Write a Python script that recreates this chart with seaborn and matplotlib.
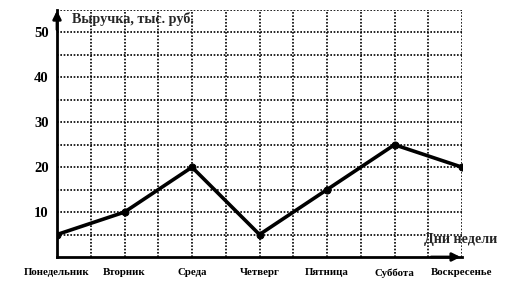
import matplotlib
matplotlib.use("Agg")
import matplotlib.pyplot as plt
import seaborn as sns
import numpy as np

# --- Datos ---
days = ["Понедельник", "Вторник", "Среда", "Четверг", "Пятница", "Суббота", "Воскресенье"]
revenue = [5, 10, 20, 5, 15, 25, 20]
y_ticks = [10, 20, 30, 40, 50]

sns.set_style("white")
plt.rcParams["font.family"] = ["Liberation Serif", "DejaVu Serif"]
plt.rcParams["font.weight"] = "bold"

fig = plt.figure(figsize=(5.08, 2.81), dpi=100)
ax = fig.add_axes([57 / 508, 1 - 257 / 281, (462 - 57) / 508, (257 - 10) / 281])

# grid punteado
for gx in np.arange(0, 6.01, 0.5):
    ax.axvline(gx, color="black", linestyle=(0, (1, 1)), linewidth=1.2, zorder=1)
for gy in np.arange(5, 55.1, 5):
    ax.axhline(gy, color="black", linestyle=(0, (1, 1)), linewidth=1.2, zorder=1)

sns.lineplot(x=days, y=revenue, ax=ax, color="black", linewidth=2.6,
             marker="o", markersize=5, markeredgecolor="black", zorder=3,
             sort=False)

ax.set_xlim(0, 6)
ax.set_ylim(0, 55)
ax.set_yticks(y_ticks)
ax.set_yticklabels([str(v) for v in y_ticks], fontsize=10.5, fontweight="bold")
ax.set_xticks(range(len(days)))
ax.set_xticklabels(days, fontsize=7.8, fontweight="bold")
ax.tick_params(axis="y", direction="out", length=3, width=1.2, pad=3, colors="black")
ax.tick_params(axis="x", direction="out", length=3, width=1.2, pad=5, colors="black")
ax.set_xlabel("")
ax.set_ylabel("")

for s in ["top", "right"]:
    ax.spines[s].set_visible(False)
for s in ["left", "bottom"]:
    ax.spines[s].set_linewidth(2)
    ax.spines[s].set_color("black")

# flechas de los ejes
ax.annotate("", xy=(0, 55.5), xytext=(0, 50), xycoords="data",
            arrowprops=dict(arrowstyle="-|>", color="black", lw=2, mutation_scale=12),
            annotation_clip=False)
ax.annotate("", xy=(6.02, 0), xytext=(5.5, 0), xycoords="data",
            arrowprops=dict(arrowstyle="-|>", color="black", lw=2, mutation_scale=12),
            annotation_clip=False)

ax.text(0.22, 53.1, "Выручка, тыс. руб.", fontsize=10.2, fontweight="bold",
        ha="left", va="center", zorder=4)
ax.text(5.44, 3.8, "Дни недели", fontsize=10.2, fontweight="bold",
        ha="left", va="center", zorder=4, clip_on=False)

plt.savefig("out.png", dpi=100)
